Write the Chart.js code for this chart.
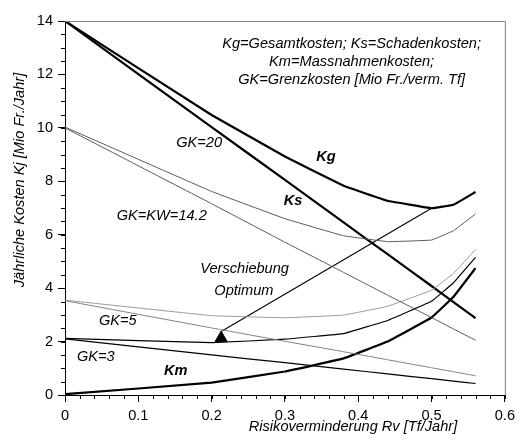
<!DOCTYPE html>
<html>
<head>
<meta charset="utf-8">
<script src="https://cdn.jsdelivr.net/npm/chart.js@4"></script>
<style>
  html, body { margin: 0; padding: 0; background: #fff; }
  #wrap { width: 520px; height: 442px; }
</style>
</head>
<body>
<div id="wrap"><canvas id="costChart" width="520" height="442"></canvas></div>
<script>
// Risikoverminderung Rv [Tf/Jahr] at which the curves were read
const rvValues = [0, 0.2, 0.3, 0.38, 0.44, 0.5, 0.53, 0.56];

// GK=20 curves
const kgValues = [14.0, 10.48, 8.93, 7.83, 7.27, 6.99, 7.12, 7.6];
const ksValues = [14.0, 10.03, 8.05, 6.46, 5.27, 4.08, 3.48, 2.88];
const kmValues = [0.03, 0.46, 0.88, 1.37, 2.0, 2.9, 3.68, 4.75];

// GK=KW=14.2
const gk142Line = [10.0, 7.16, 5.72, 4.59, 3.74, 2.9, 2.47, 2.05];
const gk142Curve = [10.03, 7.62, 6.6, 5.96, 5.74, 5.8, 6.15, 6.78];

// GK=5
const gk5Line = [3.53, 2.51, 2.01, 1.62, 1.32, 1.02, 0.87, 0.72];
const gk5Curve = [3.55, 2.97, 2.89, 2.99, 3.32, 3.92, 4.55, 5.45];

// GK=3
const gk3Line = [2.1, 1.5, 1.21, 0.97, 0.79, 0.61, 0.52, 0.43];
const gk3Curve = [2.12, 1.96, 2.09, 2.3, 2.79, 3.51, 4.2, 5.15];

// Verschiebung Optimum arrow
const arrowX = [0.213, 0.5];
const arrowY = [2.38, 6.99];

const xTicks = [0, 0.1, 0.2, 0.3, 0.4, 0.5, 0.6];
const yTicks = [0, 2, 4, 6, 8, 10, 12, 14];

const FONT = '"Liberation Sans", Arial, sans-serif';
const FONT_SIZE = 14.6;

function toPoints(xs, ys) {
    return xs.map((x, i) => ({ x: x, y: ys[i] }));
}

function lineSet(values, color, width) {
    return {
        data: toPoints(rvValues, values),
        borderColor: color,
        borderWidth: width,
        pointRadius: 0,
        fill: false,
        tension: 0.05
    };
}

// text labels placed in data coordinates
const labels = [
    { text: 'Kg=Gesamtkosten; Ks=Schadenkosten;', x: 0.391, y: 13.14 },
    { text: 'Km=Massnahmenkosten;', x: 0.391, y: 12.47 },
    { text: 'GK=Grenzkosten [Mio Fr./verm. Tf]', x: 0.391, y: 11.79 },
    { text: 'GK=20', x: 0.183, y: 9.43 },
    { text: 'Kg', x: 0.356, y: 8.91, bold: true },
    { text: 'Ks', x: 0.311, y: 7.26, bold: true },
    { text: 'GK=KW=14.2', x: 0.132, y: 6.70 },
    { text: 'Verschiebung', x: 0.245, y: 4.72 },
    { text: 'Optimum', x: 0.244, y: 3.89 },
    { text: 'GK=5', x: 0.072, y: 2.77 },
    { text: 'GK=3', x: 0.042, y: 1.42 },
    { text: 'Km', x: 0.151, y: 0.90, bold: true }
];

const decorPlugin = {
    id: 'decor',
    afterDraw(chart) {
        const ctx = chart.ctx;
        const xs = chart.scales.x;
        const ys = chart.scales.y;
        const area = chart.chartArea;
        ctx.save();

        // grey frame on top and right
        ctx.strokeStyle = '#808080';
        ctx.lineWidth = 1;
        ctx.beginPath();
        ctx.moveTo(area.left, area.top + 0.5);
        ctx.lineTo(area.right + 0.5, area.top + 0.5);
        ctx.lineTo(area.right + 0.5, area.bottom);
        ctx.stroke();

        // minor ticks
        ctx.strokeStyle = '#000';
        ctx.beginPath();
        for (let i = 0; i <= 30; i++) {
            const px = Math.round(xs.getPixelForValue(i * 0.02)) + 0.5;
            ctx.moveTo(px, area.bottom);
            ctx.lineTo(px, area.bottom + 4);
        }
        for (let i = 0; i <= 28; i++) {
            const py = Math.round(ys.getPixelForValue(i * 0.5)) + 0.5;
            ctx.moveTo(area.left, py);
            ctx.lineTo(area.left - 4, py);
        }
        ctx.stroke();

        // annotations
        ctx.fillStyle = '#000';
        ctx.textAlign = 'center';
        ctx.textBaseline = 'middle';
        labels.forEach(l => {
            ctx.font = (l.bold ? 'italic bold ' : 'italic ') + FONT_SIZE + 'px ' + FONT;
            ctx.fillText(l.text, xs.getPixelForValue(l.x), ys.getPixelForValue(l.y));
        });

        // axis titles
        ctx.font = 'italic ' + FONT_SIZE + 'px ' + FONT;
        ctx.fillText('Risikoverminderung Rv [Tf/Jahr]', 353, 427);
        ctx.translate(20, 180);
        ctx.rotate(-Math.PI / 2);
        ctx.fillText('Jährliche Kosten Kj [Mio Fr./Jahr]', 0, 0);
        ctx.restore();
    }
};

const ctx = document.getElementById('costChart').getContext('2d');

new Chart(ctx, {
    type: 'line',
    data: {
        datasets: [
            lineSet(gk142Line, '#5a5a5a', 1),
            lineSet(gk142Curve, '#5a5a5a', 1),
            lineSet(gk5Line, '#808080', 1),
            lineSet(gk5Curve, '#9a9a9a', 1),
            lineSet(gk3Line, '#000', 1.2),
            lineSet(gk3Curve, '#000', 1.2),
            lineSet(ksValues, '#000', 2.2),
            lineSet(kgValues, '#000', 2.2),
            lineSet(kmValues, '#000', 2.2),
            {
                data: toPoints(arrowX, arrowY),
                borderColor: '#000',
                borderWidth: 1.1,
                pointRadius: 0,
                tension: 0
            },
            {
                data: [{ x: arrowX[0], y: 2.13 }],
                showLine: false,
                pointStyle: 'triangle',
                pointRadius: 7,
                backgroundColor: '#000',
                borderColor: '#000',
                borderWidth: 1
            }
        ]
    },
    options: {
        responsive: false,
        animation: false,
        devicePixelRatio: 1,
        layout: { padding: { left: 0, top: 21, right: 15, bottom: 0 } },
        plugins: {
            legend: { display: false },
            tooltip: { enabled: false }
        },
        scales: {
            x: {
                type: 'linear',
                min: 0,
                max: 0.6,
                afterFit(scale) { scale.height = 47; },
                afterBuildTicks(scale) { scale.ticks = xTicks.map(v => ({ value: v })); },
                grid: { drawOnChartArea: false, tickLength: 7, color: '#000' },
                border: { color: '#000', width: 1 },
                ticks: {
                    color: '#000',
                    padding: 5,
                    maxRotation: 0,
                    font: { family: FONT, size: FONT_SIZE },
                    callback: v => String(v)
                }
            },
            y: {
                type: 'linear',
                min: 0,
                max: 14,
                afterFit(scale) { scale.width = 65; },
                afterBuildTicks(scale) { scale.ticks = yTicks.map(v => ({ value: v })); },
                grid: { drawOnChartArea: false, tickLength: 7, color: '#000' },
                border: { color: '#000', width: 1 },
                ticks: {
                    color: '#000',
                    padding: 5,
                    font: { family: FONT, size: FONT_SIZE }
                }
            }
        }
    },
    plugins: [decorPlugin]
});
</script>
</body>
</html>
